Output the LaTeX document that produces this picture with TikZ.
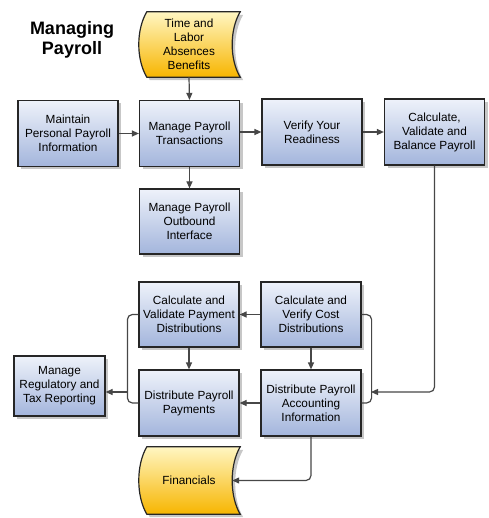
\documentclass[tikz,border=0pt]{standalone}
\usepackage{fontspec}
\setmainfont{Liberation Sans}
\usetikzlibrary{arrows.meta,shadows,backgrounds}
\definecolor{boxtop}{HTML}{EEF2FA}
\definecolor{boxbot}{HTML}{A3B5DC}
\definecolor{doctop}{HTML}{FFF6C2}
\definecolor{docbot}{HTML}{F7B500}
\definecolor{linec}{HTML}{474747}
\tikzset{
  procbox/.style={rectangle, draw=black!85, line width=1.2pt, top color=boxtop, bottom color=boxbot,
    minimum width=100pt, minimum height=66pt, inner sep=1pt, align=center,
    font=\fontsize{11.8}{14}\selectfont,
    drop shadow={shadow xshift=3pt, shadow yshift=-3pt, fill=black, opacity=0.22}},
  doctext/.style={rectangle, draw=none, minimum width=100pt, minimum height=65pt, inner sep=1pt,
    align=center, font=\fontsize{11.8}{14}\selectfont},
  docpath/.style={draw=black!85, line width=1.2pt, top color=doctop, bottom color=docbot,
    drop shadow={shadow xshift=3pt, shadow yshift=-3pt, fill=black, opacity=0.22}},
  conn/.style={draw=linec, line width=1.2pt, -{Triangle[length=7pt,width=6pt]}},
  bline/.style={draw=linec, line width=1.2pt, rounded corners=5pt},
}
\newcommand\docshape[1]{%
\begin{scope}[on background layer]
\path[docpath] ([xshift=8pt]#1.north west) .. controls ([xshift=-2.7pt,yshift=-18pt]#1.north west) and ([xshift=-2.7pt,yshift=18pt]#1.south west) .. ([xshift=8pt]#1.south west) -- ([xshift=1pt]#1.south east) .. controls ([xshift=-9.7pt,yshift=18pt]#1.south east) and ([xshift=-9.7pt,yshift=-18pt]#1.north east) .. ([xshift=1pt]#1.north east) -- cycle;
\end{scope}}
\begin{document}
\begin{tikzpicture}[x=1pt,y=-1pt]
\useasboundingbox (0,0) rectangle (488,518);
\node[font=\fontsize{18}{20}\selectfont\bfseries, align=center] (title) at (72,40) {Managing\\Payroll};

\node[doctext] (time) at (189,44.5) {Time and\\Labor\\Absences\\Benefits};
\docshape{time}
\node[doctext, minimum height=67pt] (fin) at (189,480.5) {Financials};
\docshape{fin}

\node[procbox] (maintain) at (68,133.5) {Maintain\\Personal Payroll\\Information};
\node[procbox] (mpt) at (189.5,133.5) {Manage Payroll\\Transactions};
\node[procbox, minimum height=65pt] (outbound) at (189.5,221.5) {Manage Payroll\\Outbound\\Interface};
\node[procbox] (verify) at (312,132) {Verify Your\\Readiness};
\node[procbox] (calc) at (434.5,132) {Calculate,\\Validate and\\Balance Payroll};

\node[procbox, minimum height=65pt] (calcpay) at (189,314.5) {Calculate and\\Validate Payment\\Distributions};
\node[procbox, minimum height=65pt] (cost) at (311,314.5) {Calculate and\\Verify Cost\\Distributions};
\node[procbox] (distpay) at (189,403) {Distribute Payroll\\Payments};
\node[procbox] (distacc) at (311,403) {Distribute Payroll\\Accounting\\Information};
\node[procbox, minimum width=91pt, minimum height=60pt] (regtax) at (59.5,386) {Manage\\Regulatory and\\Tax Reporting};

\coordinate (rbr) at (371,392);
\coordinate (lbr) at (128,392);

\draw[conn] (time.south) -- (mpt.north);
\draw[conn] (maintain.east) -- (mpt.west);
\draw[conn] (mpt.south) -- (outbound.north);
\draw[conn] (mpt.east |- verify.west) -- (verify.west);
\draw[conn] (verify.east) -- (calc.west);

\draw[bline] (cost.east) -- ++(10,0) |- (distacc.east);
\draw[bline] (calcpay.west) -- ++(-11,0) |- (distpay.west);
\draw[conn, rounded corners=5pt] (calc.south) |- (rbr);
\draw[conn] (lbr) -- (regtax.east |- lbr);

\draw[conn] (cost.west) -- (calcpay.east);
\draw[conn] (calcpay.south) -- (distpay.north);
\draw[conn] (cost.south) -- (distacc.north);
\draw[conn] (distacc.west) -- (distpay.east);
\draw[conn, rounded corners=5pt] (distacc.south) |- ([xshift=-7pt]fin.east);
\end{tikzpicture}
\end{document}
